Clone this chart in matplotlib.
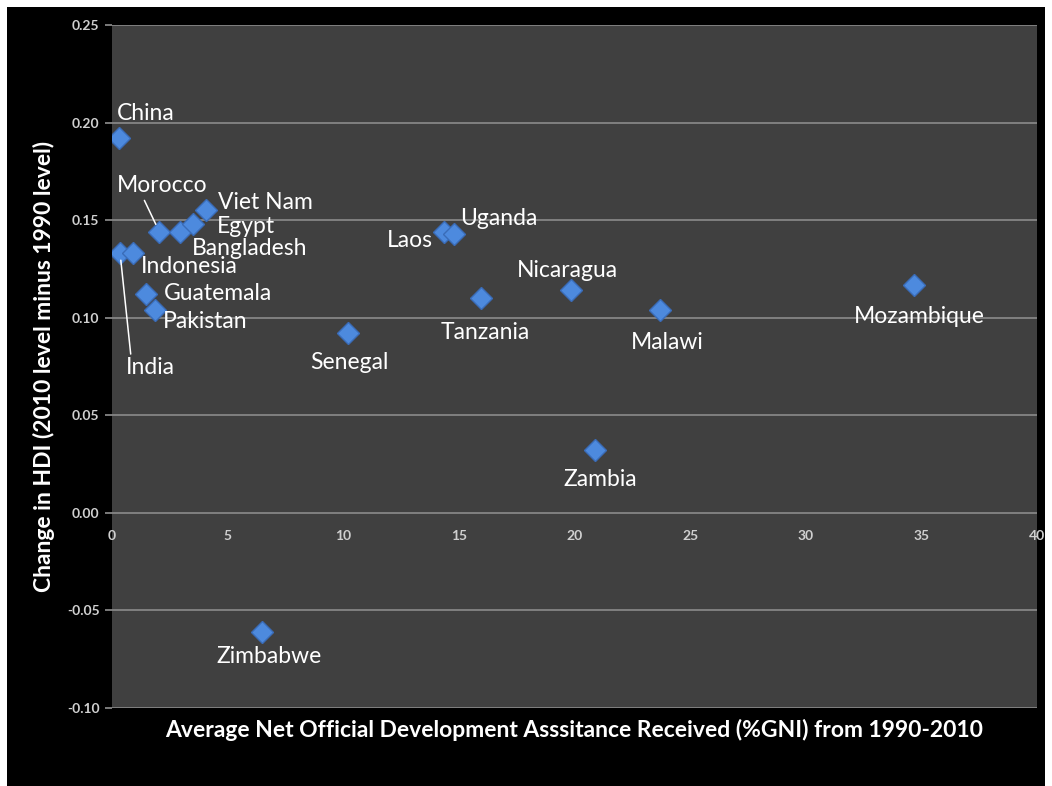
import matplotlib
matplotlib.use('Agg')
import matplotlib.pyplot as plt
import matplotlib.ticker as ticker
from matplotlib.patches import Rectangle

# data
countries = ['China', 'India', 'Indonesia', 'Morocco', 'Bangladesh', 'Egypt',
             'Viet Nam', 'Guatemala', 'Pakistan', 'Senegal', 'Zimbabwe', 'Laos',
             'Uganda', 'Tanzania', 'Nicaragua', 'Malawi', 'Zambia', 'Mozambique']
oda_pct_gni = [0.3, 0.35, 0.9, 2.05, 2.95, 3.5, 4.05, 1.45, 1.85, 10.2, 6.5,
               14.35, 14.8, 15.95, 19.85, 23.7, 20.9, 34.7]
hdi_change = [0.192, 0.133, 0.133, 0.144, 0.144, 0.148, 0.155, 0.112, 0.104,
              0.092, -0.061, 0.144, 0.143, 0.110, 0.114, 0.104, 0.032, 0.117]

# label placement: (dx, dy) in pixels, horizontal alignment
label_pos = {
    'China': (-2, 25, 'left'),
    'India': (6, -114, 'left'),
    'Indonesia': (8, -13, 'left'),
    'Morocco': (3, 46, 'center'),
    'Bangladesh': (12, -17, 'left'),
    'Egypt': (24, -2, 'left'),
    'Viet Nam': (12, 8, 'left'),
    'Guatemala': (18, 1, 'left'),
    'Pakistan': (8, -12, 'left'),
    'Senegal': (2, -29, 'center'),
    'Zimbabwe': (7, -25, 'center'),
    'Laos': (-11, -9, 'right'),
    'Uganda': (6, 15, 'left'),
    'Tanzania': (4, -34, 'center'),
    'Nicaragua': (-4, 20, 'center'),
    'Malawi': (7, -33, 'center'),
    'Zambia': (5, -29, 'center'),
    'Mozambique': (5, -32, 'center'),
}

plt.rcParams['font.family'] = ['Lato', 'DejaVu Sans']

fig = plt.figure(figsize=(10.52, 7.86), dpi=100, facecolor='white')
fig.patches.append(Rectangle((7 / 1052, 0), 1038 / 1052, 779 / 786,
                             transform=fig.transFigure, facecolor='black',
                             edgecolor='none', zorder=-10))
ax = fig.add_axes([112 / 1052, 1 - 708 / 786, 925 / 1052, 683 / 786])
ax.set_facecolor('#404040')

ax.set_xlim(0, 40)
ax.set_ylim(-0.10, 0.25)
ax.yaxis.set_major_locator(ticker.MultipleLocator(0.05))
ax.xaxis.set_major_locator(ticker.MultipleLocator(5))
ax.yaxis.set_major_formatter(ticker.FormatStrFormatter('%.2f'))
ax.grid(axis='y', color='#858585', linewidth=1.3)
ax.set_axisbelow(True)

for s in ['top', 'right', 'left']:
    ax.spines[s].set_visible(False)
# x axis crosses at y = 0
ax.spines['bottom'].set_position(('data', 0))
ax.spines['bottom'].set_visible(False)

ax.tick_params(axis='y', colors='#858585', length=5, width=1.3,
               labelcolor='#d0d0d0', labelsize=10, pad=4)
ax.tick_params(axis='x', length=0, labelcolor='#d0d0d0', labelsize=10, pad=12)
for lab in ax.get_xticklabels() + ax.get_yticklabels():
    lab.set_fontweight('bold')

ax.plot(oda_pct_gni, hdi_change, linestyle='none', marker='D', markersize=11,
        markerfacecolor='#4d8ade', markeredgecolor='#3a6cb8', markeredgewidth=1,
        zorder=3)

for name, x, y in zip(countries, oda_pct_gni, hdi_change):
    dx, dy, ha = label_pos[name]
    arrow = None
    if name == 'India':
        arrow = dict(arrowstyle='-', color='white', lw=1.1, relpos=(0.1, 1.0),
                     shrinkA=0, shrinkB=5)
    elif name == 'Morocco':
        arrow = dict(arrowstyle='-', color='white', lw=1.1, relpos=(0.28, 0.0),
                     shrinkA=1, shrinkB=6)
    ax.annotate(name, (x, y), xytext=(dx, dy), textcoords='offset pixels',
                ha=ha, va='center', color='white', fontsize=16.5,
                arrowprops=arrow, zorder=4)

ax.set_xlabel('Average Net Official Development Asssitance Received (%GNI) from 1990-2010',
              color='white', fontsize=16.5, fontweight='bold', labelpad=0)
ax.xaxis.set_label_coords(0.5, -0.016)
ax.set_ylabel('Change in HDI (2010 level minus 1990 level)', color='white',
              fontsize=16.5, fontweight='bold')
ax.yaxis.set_label_coords(-0.062, 0.5)

fig.savefig('out.png', dpi=100, facecolor=fig.get_facecolor())
